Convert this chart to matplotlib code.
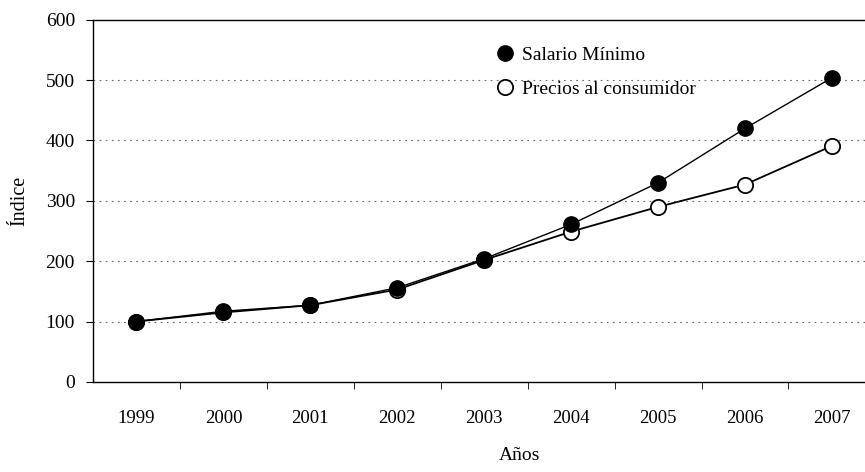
import matplotlib
matplotlib.use("Agg")
import matplotlib.pyplot as plt
import numpy as np

years = ["1999", "2000", "2001", "2002", "2003", "2004", "2005", "2006", "2007"]
salario_minimo = [100, 117, 127, 156, 204, 261, 330, 420, 504]
precios_consumidor = [100, 115, 127, 153, 202, 249, 290, 327, 391]
y_ticks = [0, 100, 200, 300, 400, 500, 600]

plt.rcParams["font.family"] = ["Liberation Serif", "DejaVu Serif"]

fig = plt.figure(figsize=(8.65, 4.72), dpi=100)
ax = fig.add_axes([0.1075, 0.191, 0.8925, 0.767])

x = np.arange(len(years))
ax.plot(x, precios_consumidor, color="black", lw=1.3, marker="o", ms=11,
        mfc="white", mec="black", mew=1.3, label="Precios al consumidor", zorder=3)
ax.plot(x, salario_minimo, color="black", lw=1.0, marker="o", ms=11,
        mfc="black", mec="black", label="Salario Mínimo", zorder=4)

for v in y_ticks[1:-1]:
    ax.axhline(v, color="#666666", lw=0.8, ls=(0, (1.5, 4)), zorder=1)

ax.set_xlim(-0.5, 8.38)
ax.set_ylim(0, 600)
ax.set_yticks(y_ticks)
ax.set_xticks(x)
ax.set_xticklabels(years)
ax.set_xticks(x[:-1] + 0.5, minor=True)
ax.tick_params(axis="x", which="major", length=0, pad=20, labelsize=13.5)
ax.tick_params(axis="x", which="minor", length=5, direction="out")
ax.tick_params(axis="y", length=5, direction="out", labelsize=14, pad=8)

ax.spines["right"].set_visible(False)
for s in ["left", "bottom", "top"]:
    ax.spines[s].set_linewidth(1.0)

ax.set_ylabel("Índice", fontsize=14.5, labelpad=12)
ax.set_xlabel("Años", fontsize=14)
ax.xaxis.set_label_coords(0.552, -0.18)

handles, labels = ax.get_legend_handles_labels()
ax.legend(handles[::-1], labels[::-1], loc="upper left", bbox_to_anchor=(0.503, 0.975),
          frameon=False, fontsize=14, labelspacing=0.85, handlelength=0.6,
          handletextpad=0.6, numpoints=1)

fig.savefig("out.png", dpi=100)
